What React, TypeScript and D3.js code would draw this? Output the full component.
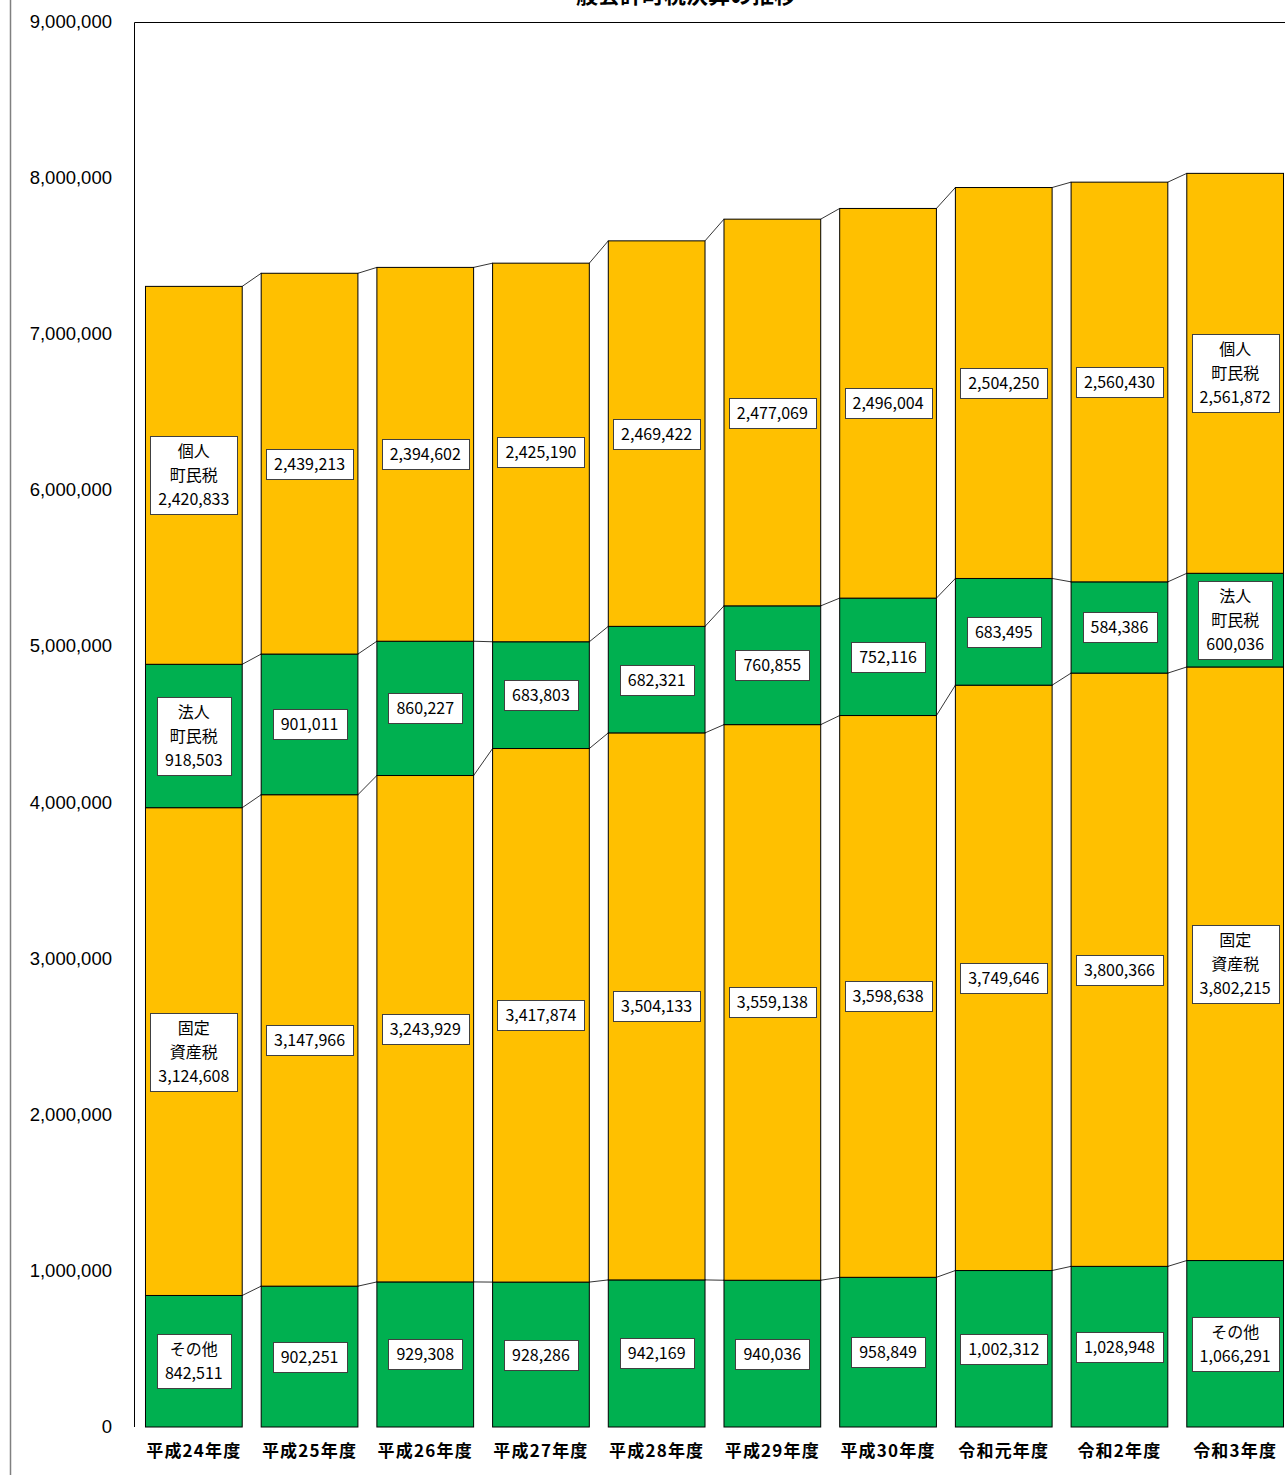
import React, { useEffect, useRef } from "react";
import * as d3 from "d3";

const years = ["平成24年度", "平成25年度", "平成26年度", "平成27年度", "平成28年度", "平成29年度", "平成30年度", "令和元年度", "令和2年度", "令和3年度"];
const sonota = [842511, 902251, 929308, 928286, 942169, 940036, 958849, 1002312, 1028948, 1066291];
const kotei = [3124608, 3147966, 3243929, 3417874, 3504133, 3559138, 3598638, 3749646, 3800366, 3802215];
const hojin = [918503, 901011, 860227, 683803, 682321, 760855, 752116, 683495, 584386, 600036];
const kojin = [2420833, 2439213, 2394602, 2425190, 2469422, 2477069, 2496004, 2504250, 2560430, 2561872];
const yTicks = [0, 1000000, 2000000, 3000000, 4000000, 5000000, 6000000, 7000000, 8000000, 9000000];

const series = [
  { key: "sonota", values: sonota, color: "#00B050", name: ["その他"] },
  { key: "kotei", values: kotei, color: "#FFC000", name: ["固定", "資産税"] },
  { key: "hojin", values: hojin, color: "#00B050", name: ["法人", "町民税"] },
  { key: "kojin", values: kojin, color: "#FFC000", name: ["個人", "町民税"] },
];

const W = 1285;
const H = 1475;
const FONT = "'Noto Sans CJK JP', 'Noto Sans', sans-serif";

const App = () => {
  const ref = useRef(null);

  useEffect(() => {
    const svg = d3.select(ref.current);
    svg.selectAll("*").remove();

    const left = 134, top = 22, bottom = 1427;
    const x = d3.scaleBand().domain(years).range([136, 1293]).paddingInner(0.164).paddingOuter(0.082);
    const y = d3.scaleLinear().domain([0, 9000000]).range([bottom, top]);
    const fmt = d3.format(",");

    svg.append("rect").attr("width", W).attr("height", H).attr("fill", "#fff");
    svg.append("line").attr("x1", 10.5).attr("x2", 10.5).attr("y1", 0).attr("y2", H).attr("stroke", "#808080").attr("stroke-width", 1.5);

    // title, mostly above the top edge like the source image
    svg.append("text").attr("x", 675).attr("y", 3).attr("text-anchor", "middle")
      .attr("font-family", FONT).attr("font-weight", "bold").attr("font-size", 22).attr("fill", "#000")
      .text("一般会計町税決算の推移");

    // plot frame
    svg.append("path").attr("d", `M${left + 0.5},${bottom}V${top + 0.5}H${W}`).attr("fill", "none").attr("stroke", "#000").attr("stroke-width", 1);

    // y ticks
    svg.append("g").selectAll("text").data(yTicks).enter().append("text")
      .attr("x", 112).attr("y", (d) => y(d) + 6).attr("text-anchor", "end")
      .attr("font-family", "'Liberation Sans', Arial, sans-serif").attr("font-size", 18.5).attr("fill", "#000")
      .text((d) => fmt(d));

    const stacked = d3.stack().keys(series.map((s) => s.key))(
      years.map((yr, i) => {
        const o = { year: yr };
        series.forEach((s) => (o[s.key] = s.values[i]));
        return o;
      })
    );

    // connector lines
    const conn = svg.append("g");
    stacked.forEach((layer) => {
      for (let i = 0; i < years.length - 1; i++) {
        conn.append("line")
          .attr("x1", x(years[i]) + x.bandwidth()).attr("y1", y(layer[i][1]))
          .attr("x2", x(years[i + 1])).attr("y2", y(layer[i + 1][1]))
          .attr("stroke", "#000").attr("stroke-width", 0.8);
      }
    });

    // bars
    stacked.forEach((layer, si) => {
      svg.append("g").selectAll("rect").data(layer).enter().append("rect")
        .attr("x", (d, i) => x(years[i]))
        .attr("y", (d) => y(d[1]))
        .attr("width", x.bandwidth())
        .attr("height", (d) => y(d[0]) - y(d[1]))
        .attr("fill", series[si].color)
        .attr("stroke", "#000").attr("stroke-width", 1);
    });

    // labels
    const labels = svg.append("g");
    stacked.forEach((layer, si) => {
      layer.forEach((d, i) => {
        const named = i === 0 || i === years.length - 1;
        const lines = named ? [...series[si].name, fmt(series[si].values[i])] : [fmt(series[si].values[i])];
        const cx = x(years[i]) + x.bandwidth() / 2;
        const cy = (y(d[0]) + y(d[1])) / 2;
        const lh = 24;
        const g = labels.append("g");
        const box = g.append("rect").attr("fill", "#fff").attr("stroke", "#404040").attr("stroke-width", 1);
        const texts = lines.map((t, k) =>
          g.append("text").attr("x", cx).attr("y", cy + (k - (lines.length - 1) / 2) * lh + 6)
            .attr("text-anchor", "middle").attr("font-family", FONT).attr("font-size", 16).attr("fill", "#000")
            .text(t)
        );
        const wMax = d3.max(texts, (t) => t.node().getComputedTextLength());
        const bw = wMax + 16;
        const bh = lines.length * lh + 6;
        box.attr("x", Math.round(cx - bw / 2) + 0.5).attr("y", Math.round(cy - bh / 2) + 0.5).attr("width", Math.round(bw)).attr("height", Math.round(bh));
      });
    });

    // x labels
    svg.append("g").selectAll("text").data(years).enter().append("text")
      .attr("x", (d) => x(d) + x.bandwidth() / 2).attr("y", 1457).attr("text-anchor", "middle")
      .attr("font-family", FONT).attr("font-weight", "bold").attr("font-size", 17).attr("letter-spacing", 1.2).attr("fill", "#000")
      .text((d) => d);
  }, []);

  return <svg ref={ref} width={W} height={H} style={{ position: "absolute", left: 0, top: 0 }}></svg>;
};

export default App;
